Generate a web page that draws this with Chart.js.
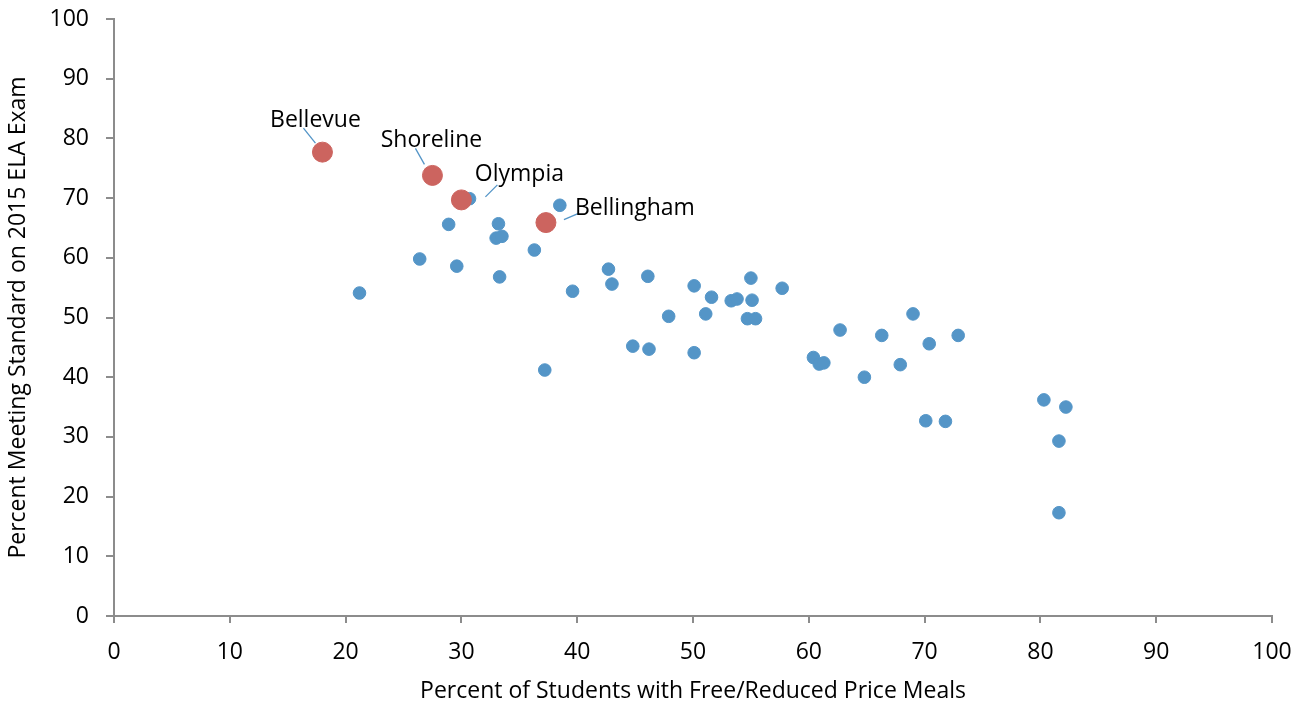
<!DOCTYPE html>
<html>
<head>
<meta charset="utf-8">
<script src="https://cdn.jsdelivr.net/npm/chart.js@4.4.1/dist/chart.umd.min.js"></script>
<style>
  html, body { margin: 0; padding: 0; background: #fff; }
  #wrap { width: 1308px; height: 706px; }
</style>
</head>
<body>
<div id="wrap"><canvas id="myChart" width="1308" height="706"></canvas></div>
<script>
// Highlighted districts
const districtNames = ['Bellevue', 'Shoreline', 'Olympia', 'Bellingham'];
const districtFrl = [18.0, 27.5, 30.0, 37.3];
const districtEla = [77.7, 73.8, 69.7, 65.9];

// Other districts
const otherFrl = [21.2, 26.4, 28.9, 29.6, 30.7, 33.2, 33.0, 33.5, 33.3, 36.3, 38.5, 37.2,
    39.6, 42.7, 43.0, 46.1, 44.8, 46.2, 47.9, 50.1, 50.1, 51.1, 51.6, 53.3, 53.8, 55.0,
    55.1, 54.7, 55.4, 57.7, 60.4, 60.9, 61.3, 62.7, 64.8, 66.3, 67.9, 69.0, 70.4, 70.1,
    71.8, 72.9, 80.3, 82.2, 81.6, 81.6];
const otherEla = [54.1, 59.8, 65.6, 58.6, 69.9, 65.7, 63.3, 63.6, 56.8, 61.3, 68.8, 41.2,
    54.4, 58.1, 55.6, 56.9, 45.2, 44.7, 50.2, 55.3, 44.1, 50.6, 53.4, 52.8, 53.1, 56.6,
    52.9, 49.8, 49.8, 54.9, 43.3, 42.2, 42.4, 47.9, 40.0, 47.0, 42.1, 50.6, 45.6, 32.7,
    32.6, 47.0, 36.2, 35.0, 29.3, 17.3];

const xTicks = [0, 10, 20, 30, 40, 50, 60, 70, 80, 90, 100];
const yTicks = [0, 10, 20, 30, 40, 50, 60, 70, 80, 90, 100];

const fontFamily = "'Open Sans', sans-serif";
const fontSize = 23;
const axisGrey = '#8c8c8c';
const blue = '#5495c7';
const red = '#cc645f';

// label placement relative to each highlighted point: text offset and leader line
const labelOffsets = [
    { tx: -7, ty: -32, l: [-7, -9, -19, -24] },
    { tx: -1, ty: -35, l: [-8, -11, -17, -27] },
    { tx: 58, ty: -25, l: [24, -3, 36, -15] },
    { tx: 89, ty: -14, l: [18, -3, 32, -9] }
];

const pointLabels = {
    id: 'pointLabels',
    afterDatasetsDraw(chart) {
        const ctx = chart.ctx;
        const meta = chart.getDatasetMeta(0);
        ctx.save();
        meta.data.forEach((pt, i) => {
            const o = labelOffsets[i];
            ctx.strokeStyle = blue;
            ctx.lineWidth = 1.3;
            ctx.beginPath();
            ctx.moveTo(pt.x + o.l[0], pt.y + o.l[1]);
            ctx.lineTo(pt.x + o.l[2], pt.y + o.l[3]);
            ctx.stroke();
            ctx.fillStyle = '#000';
            ctx.font = fontSize + 'px ' + fontFamily;
            ctx.textAlign = 'center';
            ctx.textBaseline = 'middle';
            ctx.fillText(districtNames[i], pt.x + o.tx, pt.y + o.ty);
        });
        ctx.restore();
    }
};

const ctx = document.getElementById('myChart').getContext('2d');
new Chart(ctx, {
    type: 'scatter',
    data: {
        datasets: [{
            label: 'Highlighted',
            data: districtFrl.map((x, i) => ({ x: x, y: districtEla[i] })),
            backgroundColor: red,
            borderColor: red,
            pointRadius: 10,
            pointHoverRadius: 10
        }, {
            label: 'Districts',
            data: otherFrl.map((x, i) => ({ x: x, y: otherEla[i] })),
            backgroundColor: blue,
            borderColor: blue,
            pointRadius: 6.3,
            pointHoverRadius: 6.3
        }]
    },
    options: {
        responsive: false,
        animation: false,
        layout: { padding: { left: 0, top: 19, right: 36, bottom: 0 } },
        plugins: {
            legend: { display: false },
            tooltip: { enabled: false }
        },
        scales: {
            x: {
                type: 'linear',
                min: 0,
                max: 100,
                afterBuildTicks: axis => { axis.ticks = xTicks.map(v => ({ value: v })); },
                afterFit: axis => { axis.height = 90; axis.paddingLeft = 0; axis.paddingRight = 0; },
                ticks: { color: '#000', padding: 16, font: { family: fontFamily, size: fontSize } },
                grid: { drawOnChartArea: false, drawTicks: true, tickLength: 7, color: axisGrey, lineWidth: 2 },
                border: { color: axisGrey, width: 2 },
                title: {
                    display: true,
                    text: 'Percent of Students with Free/Reduced Price Meals',
                    color: '#000',
                    font: { family: fontFamily, size: fontSize },
                    padding: { top: 0, bottom: 1 }
                }
            },
            y: {
                type: 'linear',
                min: 0,
                max: 100,
                afterBuildTicks: axis => { axis.ticks = yTicks.map(v => ({ value: v })); },
                afterFit: axis => { axis.width = 114; axis.paddingTop = 0; axis.paddingBottom = 0; },
                ticks: { color: '#000', padding: 17, font: { family: fontFamily, size: fontSize } },
                grid: { drawOnChartArea: false, drawTicks: true, tickLength: 8, color: axisGrey, lineWidth: 2 },
                border: { color: axisGrey, width: 2 },
                title: {
                    display: true,
                    text: 'Percent Meeting Standard on 2015 ELA Exam',
                    color: '#000',
                    font: { family: fontFamily, size: fontSize },
                    padding: { top: 5, bottom: 0 }
                }
            }
        }
    },
    plugins: [pointLabels]
});
</script>
</body>
</html>
